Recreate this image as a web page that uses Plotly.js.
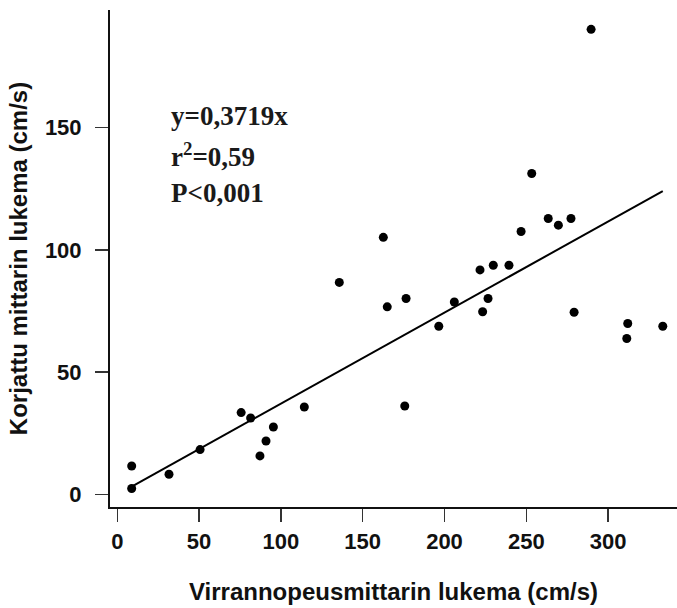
<!DOCTYPE html>
<html>
<head>
<meta charset="utf-8">
<script src="https://cdn.plot.ly/plotly-3.0.1.min.js"></script>
<style>
  html, body { margin: 0; padding: 0; background: #fff; }
  #chart { width: 677px; height: 608px; }
</style>
</head>
<body>
<div id="chart"></div>
<script>
// Flow meter reading (x) against corrected meter reading (y), cm/s
const meterX = [8.8, 8.8, 31.6, 50.6, 75.7, 81.5, 95.4, 90.9, 87.2, 114.3,
                162.6, 135.7, 165.0, 176.5, 175.7, 196.5, 206.0, 221.7, 229.8, 226.6,
                223.3, 239.4, 246.8, 253.3, 263.4, 269.6, 277.3, 279.2, 312.0, 311.4,
                333.4, 289.6];
const correctedY = [2.5, 11.7, 8.3, 18.4, 33.5, 31.3, 27.6, 21.9, 15.8, 35.8,
                    105.1, 86.7, 76.7, 80.1, 36.2, 68.8, 78.7, 91.8, 93.7, 80.1,
                    74.7, 93.7, 107.5, 131.2, 112.8, 110.1, 112.8, 74.5, 69.9, 63.8,
                    68.8, 190.1];

// Regression through the origin
const slope = 0.3719;
const fitX = [Math.min(...meterX), Math.max(...meterX)];
const fitY = fitX.map(x => slope * x);

const xTicks = [0, 50, 100, 150, 200, 250, 300];
const yTicks = [0, 50, 100, 150];

const statLines = ['y=0,3719x', 'r<sup>2</sup>=0,59', 'P<0,001'];
const statY = [154.7, 138.9, 123.4];

const sansBold = {family: 'Liberation Sans, Arial, sans-serif', size: 22, color: '#111', weight: 'bold'};
const titleFont = {family: 'Liberation Sans, Arial, sans-serif', size: 24, color: '#111', weight: 'bold'};

const traces = [
  {
    x: fitX, y: fitY, type: 'scatter', mode: 'lines',
    line: {color: '#000', width: 2}, hoverinfo: 'skip'
  },
  {
    x: meterX, y: correctedY, type: 'scatter', mode: 'markers',
    marker: {color: '#000', size: 9, line: {width: 0}}
  }
];

const layout = {
  width: 677, height: 608,
  margin: {l: 110, r: 0, t: 10, b: 101},
  paper_bgcolor: '#fff', plot_bgcolor: '#fff',
  showlegend: false,
  xaxis: {
    range: [-4.46, 342.1],
    tickvals: xTicks, ticktext: xTicks.map(String),
    ticks: 'outside', ticklen: 13, tickwidth: 1.5, tickcolor: '#333',
    showline: true, linecolor: '#111', linewidth: 2,
    showgrid: false, zeroline: false,
    tickfont: sansBold, ticklabelstandoff: 1,
    title: {text: 'Virrannopeusmittarin lukema (cm/s)', font: titleFont, standoff: 30}
  },
  yaxis: {
    range: [-5.07, 198.0],
    tickvals: yTicks, ticktext: yTicks.map(String),
    ticks: 'outside', ticklen: 13, tickwidth: 1.5, tickcolor: '#333',
    showline: true, linecolor: '#111', linewidth: 2,
    showgrid: false, zeroline: false,
    tickfont: sansBold, ticklabelstandoff: 9,
    title: {text: 'Korjattu mittarin lukema (cm/s)', font: titleFont, standoff: 10}
  },
  annotations: statLines.map((t, i) => ({
    text: t, x: 31.4, y: statY[i], xref: 'x', yref: 'y',
    xanchor: 'left', yanchor: 'middle', showarrow: false,
    font: {family: 'Liberation Serif, Times New Roman, serif', size: 27, color: '#1a1a1a', weight: 'bold'}
  }))
};

Plotly.newPlot('chart', traces, layout, {displayModeBar: false, staticPlot: true});
</script>
</body>
</html>
